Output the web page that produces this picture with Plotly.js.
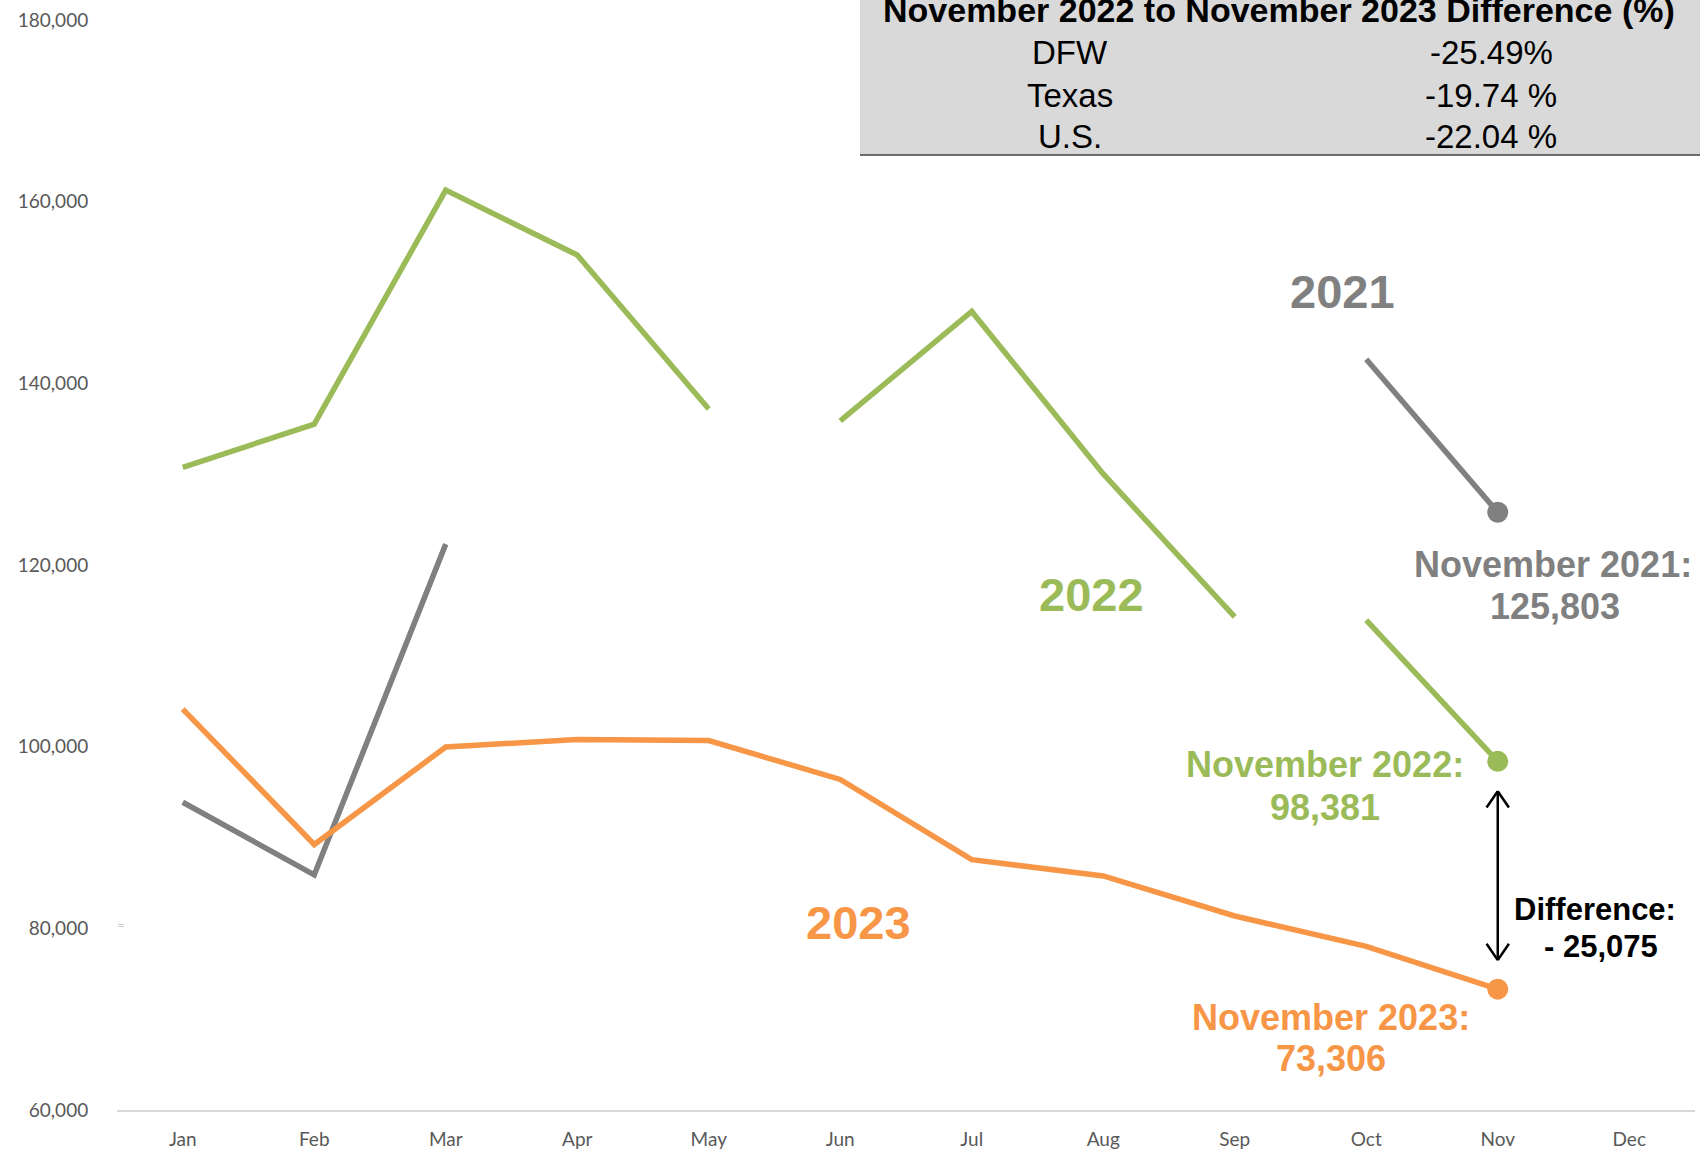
<!DOCTYPE html>
<html>
<head>
<meta charset="utf-8">
<script src="https://cdn.plot.ly/plotly-3.0.1.min.js"></script>
<style>html,body{margin:0;padding:0;background:#fff;}#chart{width:1700px;height:1155px;}</style>
</head>
<body>
<div id="chart"></div>
<script>
// ---- data ----
const months = ['Jan','Feb','Mar','Apr','May','Jun','Jul','Aug','Sep','Oct','Nov','Dec'];
const sales2021 = [93880, 85890, 122300, null, null, null, null, null, null, 142660, 125803];
const sales2022 = [130740, 135510, 161270, 154120, 137180, 135870, 147910, 130020, 114280, 113920, 98381];
const sales2023 = [104140, 89230, 99960, 100800, 100680, 96390, 87560, 85770, 81360, 78020, 73306];
const segments2022 = [[0, 4], [5, 8], [9, 10]];
const tableRegions = ['DFW', 'Texas', 'U.S.'];
const tableChanges = ['-25.49%', '-19.74 %', '-22.04 %'];
const yTicks = [60000, 80000, 100000, 120000, 140000, 160000, 180000];

// ---- styling ----
const GRAY = '#808080', GREEN = '#9bbb59', ORANGE = '#f79646';
const LW = 5.5;
const fmt = v => v.toLocaleString('en-US');
const nov = 10;

// pixel helpers for paper coordinates (plot area: x 117..1695, y 20..1110)
const L = 117, R = 5, T = 20, B = 45, W = 1700, H = 1155;
const pw = W - L - R, ph = H - T - B;
const px = x => (x - L) / pw;
const py = y => (H - B - y) / ph;

const traces = [];
traces.push({x: months.slice(0, sales2021.length), y: sales2021, mode: 'lines', connectgaps: false,
  line: {color: GRAY, width: LW}, hoverinfo: 'skip'});
segments2022.forEach(([a, b]) => {
  traces.push({x: months.slice(a, b + 1), y: sales2022.slice(a, b + 1), mode: 'lines',
    line: {color: GREEN, width: LW}, hoverinfo: 'skip'});
});
traces.push({x: months.slice(0, sales2023.length), y: sales2023, mode: 'lines',
  line: {color: ORANGE, width: LW}, hoverinfo: 'skip'});
[[sales2021, GRAY], [sales2022, GREEN], [sales2023, ORANGE]].forEach(([s, c]) => {
  traces.push({x: [months[nov]], y: [s[nov]], mode: 'markers', marker: {color: c, size: 21}, hoverinfo: 'skip'});
});

const bold = (size, color) => ({family: 'Liberation Sans, Arial, sans-serif', size: size, color: color, weight: 'bold'});
const ann = (x, y, text, font) => ({xref: 'paper', yref: 'paper', x: px(x), y: py(y), text: text,
  showarrow: false, xanchor: 'center', yanchor: 'middle', font: font});

const diff = sales2023[nov] - sales2022[nov];
const annotations = [
  ann(1342, 291, '<b>2021</b>', bold(47, GRAY)),
  ann(1091, 594, '<b>2022</b>', bold(47, GREEN)),
  ann(858, 922, '<b>2023</b>', bold(47, ORANGE)),
  ann(1553, 564, '<b>November 2021:</b>', bold(36, GRAY)),
  ann(1555, 606, '<b>' + fmt(sales2021[nov]) + '</b>', bold(36, GRAY)),
  ann(1325, 764, '<b>November 2022:</b>', bold(36, GREEN)),
  ann(1325, 808, '<b>' + fmt(sales2022[nov]) + '</b>', bold(36, GREEN)),
  ann(1331, 1017, '<b>November 2023:</b>', bold(36, ORANGE)),
  ann(1331, 1058, '<b>' + fmt(sales2023[nov]) + '</b>', bold(36, ORANGE)),
  ann(1595, 909, '<b>Difference:</b>', bold(31, '#000000')),
  ann(1601, 946, '<b>- ' + fmt(Math.abs(diff)) + '</b>', bold(31, '#000000')),
  ann(1279, 10, '<b>November 2022 to November 2023 Difference (%)</b>', bold(34, '#000000')),
  ann(121, 924, '=', {family: 'Lato, sans-serif', size: 14, color: '#cfcfcf'})
];
const rowY = [52, 95, 136];
tableRegions.forEach((r, i) => {
  annotations.push(ann(1070, rowY[i], r, {family: 'Liberation Sans, Arial, sans-serif', size: 33, color: '#000'}));
  annotations.push(ann(1491, rowY[i], tableChanges[i], {family: 'Liberation Sans, Arial, sans-serif', size: 33, color: '#000'}));
});

// double-headed arrow between Nov 2022 and Nov 2023
const aTop = 95100, aBot = 76500, hx = 0.085, hy = 1800;
const blk = {color: '#000', width: 2.5};
const shapes = [
  {type: 'rect', xref: 'paper', yref: 'paper', x0: px(860), x1: px(1702), y0: py(155), y1: py(-2),
    fillcolor: '#d9d9d9', line: {width: 0}, layer: 'below'},
  {type: 'line', xref: 'paper', yref: 'paper', x0: px(860), x1: px(1702), y0: py(155), y1: py(155),
    line: {color: '#404040', width: 1.5}},
  {type: 'line', xref: 'x', yref: 'y', x0: nov, x1: nov, y0: aTop, y1: aBot, line: blk},
  {type: 'line', xref: 'x', yref: 'y', x0: nov - hx, x1: nov, y0: aTop - hy, y1: aTop, line: blk},
  {type: 'line', xref: 'x', yref: 'y', x0: nov + hx, x1: nov, y0: aTop - hy, y1: aTop, line: blk},
  {type: 'line', xref: 'x', yref: 'y', x0: nov - hx, x1: nov, y0: aBot + hy, y1: aBot, line: blk},
  {type: 'line', xref: 'x', yref: 'y', x0: nov + hx, x1: nov, y0: aBot + hy, y1: aBot, line: blk}
];

const tickFont = {family: 'Lato, Carlito, Calibri, sans-serif', size: 19, color: '#595959'};
const layout = {
  width: W, height: H,
  margin: {l: L, r: R, t: T, b: B},
  paper_bgcolor: '#ffffff', plot_bgcolor: '#ffffff',
  showlegend: false,
  xaxis: {type: 'category', categoryorder: 'array', categoryarray: months, range: [-0.5, 11.5],
    showgrid: false, zeroline: false, showline: true, linecolor: '#d9d9d9', linewidth: 2,
    ticks: 'outside', ticklen: 11, tickcolor: 'rgba(0,0,0,0)', tickfont: tickFont, fixedrange: true},
  yaxis: {range: [60000, 180000], tickvals: yTicks, ticktext: yTicks.map(fmt),
    showgrid: false, zeroline: false, showline: false,
    ticks: 'outside', ticklen: 24, tickcolor: 'rgba(0,0,0,0)', tickfont: tickFont, fixedrange: true},
  annotations: annotations,
  shapes: shapes
};
Plotly.newPlot('chart', traces, layout, {displayModeBar: false, staticPlot: true});
</script>
</body>
</html>
